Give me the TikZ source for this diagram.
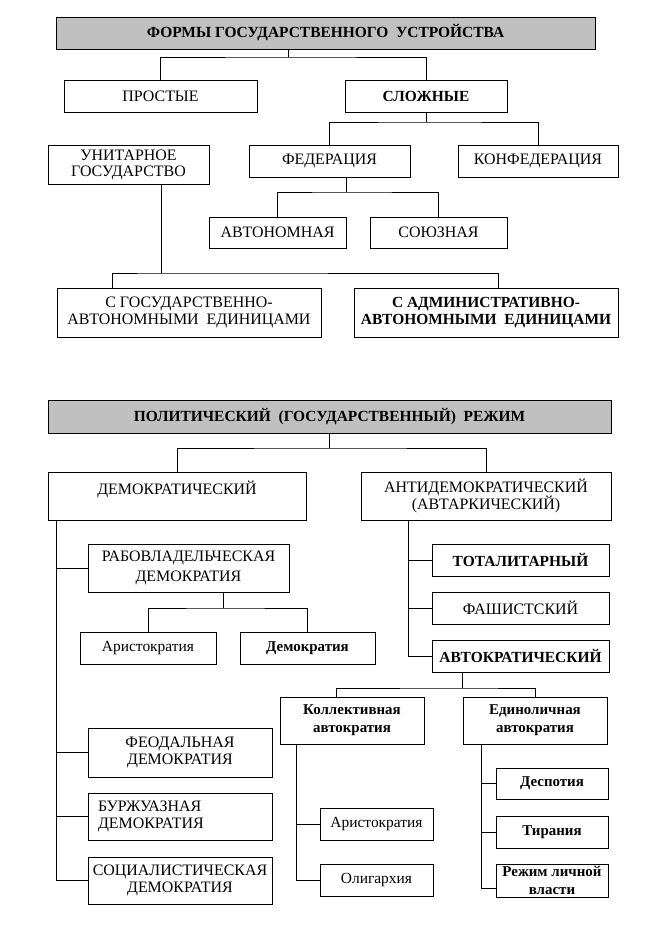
\documentclass[tikz,border=0pt]{standalone}
\usepackage{fontspec}
\setmainfont{Liberation Serif}
\definecolor{hdr}{RGB}{192,192,192}
\tikzset{
  box/.style={draw, fill=white, line width=.8bp, inner sep=0pt, align=center, font=\fontsize{16}{17.5}\selectfont},
  hbox/.style={box, fill=hdr, font=\fontsize{15.5}{17}\selectfont\bfseries},
  bbox/.style={box, font=\fontsize{15.5}{17.5}\selectfont\bfseries},
  sbox/.style={box, font=\fontsize{15.5}{17}\selectfont},
  sbbox/.style={box, font=\fontsize{15}{18}\selectfont\bfseries},
  wh/.style 2 args={minimum width=#1bp, minimum height=#2bp},
  link/.style={line width=.8bp}
}
\begin{document}
\begin{tikzpicture}[x=1bp, y=-1bp]
\useasboundingbox (0,0) rectangle (648,928);
% forms of state structure
\node[hbox, wh={539}{32}] (t1) at (325.5,33) {ФОРМЫ ГОСУДАРСТВЕННОГО~ УСТРОЙСТВА};
\node[box, wh={193}{32}] (prost) at (160.5,96) {ПРОСТЫЕ};
\node[bbox, wh={162}{32}] (slozh) at (426,96) {СЛОЖНЫЕ};
\node[box, wh={161}{39}, font=\fontsize{16}{16}\selectfont] (unit) at (128.5,164.5) {УНИТАРНОЕ\\ГОСУДАРСТВО};
\node[box, wh={161}{32}] (fed) at (329.5,161) {ФЕДЕРАЦИЯ};
\node[box, wh={160}{32}] (konf) at (538,161) {КОНФЕДЕРАЦИЯ};
\node[box, wh={137}{31}] (avt) at (277.5,232.5) {АВТОНОМНАЯ};
\node[box, wh={137}{31}] (soyuz) at (438.5,232.5) {СОЮЗНАЯ};
\node[box, wh={264}{49}] (gosavt) at (189,312.5) {С ГОСУДАРСТВЕННО-\\АВТОНОМНЫМИ~ ЕДИНИЦАМИ};
\node[bbox, wh={264}{49}] (adm) at (486,312.5) {С АДМИНИСТРАТИВНО-\\АВТОНОМНЫМИ~ ЕДИНИЦАМИ};

\coordinate (j1) at (288,57);
\draw[link] (j1 |- t1.south) -- (j1);
\draw[link] (prost.north) |- (j1) -| (slozh.north);
\coordinate (j2) at (426,122);
\draw[link] (slozh.south) -- (j2);
\draw[link] (fed.north) |- (j2) -| (konf.north);
\coordinate (j3) at (346,192);
\draw[link] (j3 |- fed.south) -- (j3);
\draw[link] (avt.north) |- (j3) -| (soyuz.north);
\coordinate (j4) at (161,273);
\draw[link] (j4 |- unit.south) -- (j4);
\draw[link] ([xshift=-77bp]gosavt.north) |- (j4) -| ([xshift=12bp]adm.north);

% political regime
\node[hbox, wh={563}{33}] (t2) at (329.5,416.5) {ПОЛИТИЧЕСКИЙ~ (ГОСУДАРСТВЕННЫЙ)~ РЕЖИМ};
\node[box, wh={258}{48}] (dem) at (177,496) {ДЕМОКРАТИЧЕСКИЙ\\~};
\node[box, wh={250}{48}] (anti) at (486,496) {АНТИДЕМОКРАТИЧЕСКИЙ\\(АВТАРКИЧЕСКИЙ)};
\node[box, wh={201}{48}, font=\fontsize{16}{20}\selectfont] (rab) at (188.5,568) {РАБОВЛАДЕЛЬЧЕСКАЯ\\ДЕМОКРАТИЯ};
\node[sbox, wh={136}{32}] (arist1) at (148,648) {Аристократия};
\node[sbbox, wh={135}{32}] (demokr) at (307.5,648) {Демократия};
\node[bbox, wh={177}{32}] (total) at (520.5,560) {ТОТАЛИТАРНЫЙ};
\node[box, wh={177}{32}] (fash) at (520.5,608) {ФАШИСТСКИЙ};
\node[bbox, wh={177}{32}] (autokr) at (520.5,656) {АВТОКРАТИЧЕСКИЙ};
\node[sbbox, wh={144}{47}] (koll) at (352,720.5) {Коллективная\\автократия};
\node[sbbox, wh={144}{47}] (edin) at (535,720.5) {Единоличная\\автократия};
\node[box, wh={184}{49}] (feod) at (180,752.5) {ФЕОДАЛЬНАЯ\\ДЕМОКРАТИЯ};
\node[box, wh={184}{47}, align=left, text width=164bp] (burzh) at (180,816.5) {БУРЖУАЗНАЯ\\ДЕМОКРАТИЯ};
\node[box, wh={184}{47}] (soc) at (180,880.5) {СОЦИАЛИСТИЧЕСКАЯ\\ДЕМОКРАТИЯ};
\node[sbox, wh={113}{32}] (arist2) at (376.5,824) {Аристократия};
\node[sbox, wh={113}{32}] (olig) at (376.5,880) {Олигархия};
\node[sbbox, wh={112}{31}] (desp) at (552,783.5) {Деспотия};
\node[sbbox, wh={112}{32}] (tir) at (552,832) {Тирания};
\node[sbbox, wh={112}{33}] (rezh) at (552,880.5) {Режим личной\\власти};

\coordinate (k1) at (329,448);
\draw[link] (k1 |- t2.south) -- (k1);
\draw[link] (dem.north) |- (k1) -| (anti.north);
\coordinate (dt) at (56,520);
\draw[link] (dt) |- (soc.west);
\foreach \n in {rab,feod,burzh}
    \draw[link] (\n.west) -- (\n.west -| dt);
\coordinate (atr) at (408,520);
\draw[link] (atr) |- (autokr.west);
\foreach \n in {total,fash}
    \draw[link] (\n.west) -- (\n.west -| atr);
\coordinate (k2) at (223,608);
\draw[link] (k2 |- rab.south) -- (k2);
\draw[link] (arist1.north) |- (k2) -| (demokr.north);
\coordinate (k3) at (462,688);
\draw[link] (k3 |- autokr.south) -- (k3);
\draw[link] ([xshift=-16bp]koll.north) |- (k3) -| (edin.north);
\coordinate (kt) at (296,744);
\draw[link] (kt) |- (olig.west);
\draw[link] (arist2.west) -- (arist2.west -| kt);
\coordinate (et) at (481,744);
\draw[link] (et) |- ([yshift=-7.5bp]rezh.west);
\foreach \n in {desp,tir}
    \draw[link] (\n.west) -- (\n.west -| et);
\end{tikzpicture}
\end{document}
